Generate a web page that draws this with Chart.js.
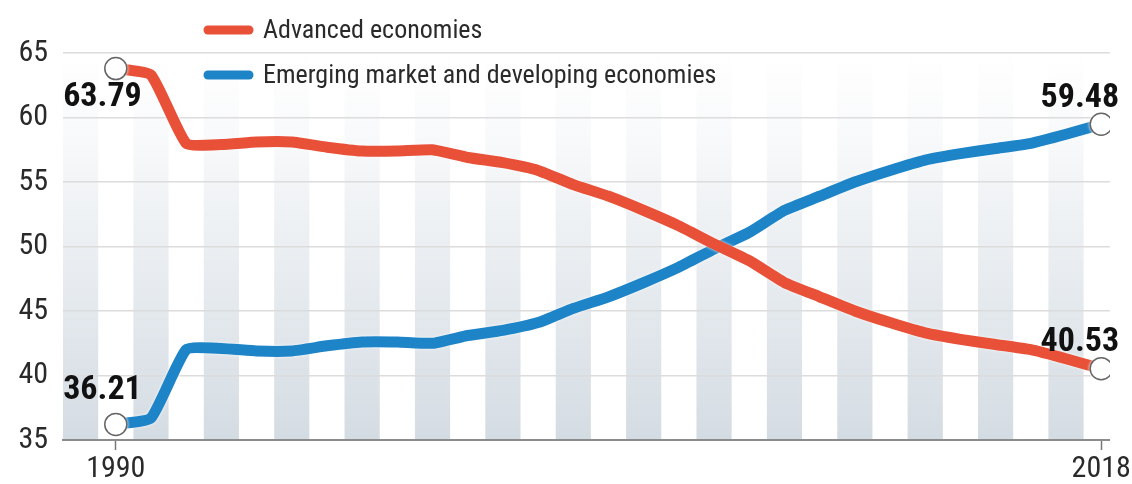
<!DOCTYPE html>
<html>
<head>
<meta charset="utf-8">
<script src="https://cdn.jsdelivr.net/npm/chart.js@4.4.1/dist/chart.umd.min.js"></script>
<style>
  html, body { margin: 0; padding: 0; background: #fff; }
  #wrap { width: 1132px; height: 484px; position: relative; }
</style>
</head>
<body>
<div id="wrap"><canvas id="chart"></canvas></div>
<script>
// data (% share)
var years = [1990, 1991, 1992, 1993, 1994, 1995, 1996, 1997, 1998, 1999,
             2000, 2001, 2002, 2003, 2004, 2005, 2006, 2007, 2008, 2009,
             2010, 2011, 2012, 2013, 2014, 2015, 2016, 2017, 2018];
var advanced = [63.79, 63.3, 58.0, 57.9, 58.1, 58.1, 57.7, 57.4, 57.4, 57.5,
                56.9, 56.5, 55.9, 54.8, 53.9, 52.8, 51.6, 50.2, 48.9, 47.2,
                46.1, 45.0, 44.1, 43.3, 42.8, 42.4, 42.0, 41.3, 40.53];
var emerging = [36.21, 36.7, 42.0, 42.1, 41.9, 41.9, 42.3, 42.6, 42.6, 42.5,
                43.1, 43.5, 44.1, 45.2, 46.1, 47.2, 48.4, 49.8, 51.1, 52.8,
                53.9, 55.0, 55.9, 56.7, 57.2, 57.6, 58.0, 58.7, 59.48];
var seriesNames = ['Advanced economies', 'Emerging market and developing economies'];
var yTicks = [35, 40, 45, 50, 55, 60, 65];
var xTickLabels = ['1990', '2018'];

var FONT = "'Liberation Sans Narrow', 'Roboto Condensed', 'DejaVu Sans Condensed', sans-serif";
var RED = 'rgb(232, 80, 56)';
var BLUE = 'rgb(30, 132, 200)';

function toPoints(vals) {
  return vals.map(function(v, i) { return {x: years[i], y: v}; });
}

// grey vertical bands on odd years, fading out towards the top
var bandsPlugin = {
  id: 'bands',
  beforeDraw: function(chart) {
    var ctx = chart.ctx, area = chart.chartArea, xs = chart.scales.x;
    var grad = ctx.createLinearGradient(0, area.top, 0, area.bottom);
    grad.addColorStop(0, 'rgba(212, 220, 227, 0)');
    grad.addColorStop(0.2, 'rgba(212, 220, 227, 0.15)');
    grad.addColorStop(1, 'rgba(212, 220, 227, 1)');
    ctx.save();
    ctx.fillStyle = grad;
    for (var y = years[0] - 1; y <= years[years.length - 1]; y += 2) {
      var x0 = Math.max(xs.getPixelForValue(y - 0.5), area.left);
      var x1 = Math.min(xs.getPixelForValue(y + 0.5), area.right);
      ctx.fillRect(x0, area.top, x1 - x0, area.bottom - area.top);
    }
    ctx.restore();
  }
};

// thin white halo round each line
var haloPlugin = {
  id: 'halo',
  beforeDatasetDraw: function(chart) {
    chart.ctx.shadowColor = 'rgba(255,255,255,0.9)';
    chart.ctx.shadowBlur = 3;
  },
  afterDatasetDraw: function(chart) {
    chart.ctx.shadowColor = 'rgba(0,0,0,0)';
    chart.ctx.shadowBlur = 0;
  }
};

// legend inside the plot and the end value labels
var labelsPlugin = {
  id: 'labels',
  afterDatasetsDraw: function(chart) {
    var ctx = chart.ctx;
    ctx.save();
    chart.data.datasets.forEach(function(ds, i) {
      var ly = 30 + i * 45;
      ctx.strokeStyle = ds.borderColor;
      ctx.lineWidth = 9;
      ctx.lineCap = 'round';
      ctx.beginPath();
      ctx.moveTo(208, ly);
      ctx.lineTo(249, ly);
      ctx.stroke();
      ctx.fillStyle = '#2a2a2a';
      ctx.font = '26px ' + FONT;
      ctx.textAlign = 'left';
      ctx.textBaseline = 'middle';
      ctx.fillText(ds.label, 263, ly + 1);

      var meta = chart.getDatasetMeta(i);
      var first = meta.data[0], last = meta.data[meta.data.length - 1];
      var vals = ds.data;
      ctx.fillStyle = '#111';
      ctx.font = 'bold 34px ' + FONT;
      ctx.textAlign = 'right';
      ctx.textBaseline = 'middle';
      var fy = i === 0 ? first.y + 29 : first.y - 34;
      ctx.fillText(vals[0].y.toFixed(2), first.x + 26, fy);
      ctx.fillText(vals[vals.length - 1].y.toFixed(2), last.x + 18, last.y - 26);
    });
    ctx.restore();
  }
};

function endRadius(c) {
  return (c.dataIndex === 0 || c.dataIndex === years.length - 1) ? 11 : 0;
}

new Chart(document.getElementById('chart').getContext('2d'), {
  type: 'line',
  data: {
    datasets: [{
      label: seriesNames[0],
      data: toPoints(advanced),
      borderColor: RED,
      borderWidth: 11,
      borderJoinStyle: 'round',
      borderCapStyle: 'round',
      tension: 0.15,
      pointRadius: endRadius,
      pointBackgroundColor: '#fff',
      pointBorderColor: '#666',
      pointBorderWidth: 1.5
    }, {
      label: seriesNames[1],
      data: toPoints(emerging),
      borderColor: BLUE,
      borderWidth: 11,
      borderJoinStyle: 'round',
      borderCapStyle: 'round',
      tension: 0.15,
      pointRadius: endRadius,
      pointBackgroundColor: '#fff',
      pointBorderColor: '#666',
      pointBorderWidth: 1.5
    }]
  },
  options: {
    responsive: true,
    maintainAspectRatio: false,
    animation: false,
    events: [],
    layout: {padding: {top: 53, right: 22, bottom: 0, left: 0}},
    plugins: {legend: {display: false}, tooltip: {enabled: false}},
    scales: {
      x: {
        type: 'linear',
        min: 1988.5,
        max: 2018.25,
        afterBuildTicks: function(scale) {
          scale.ticks = xTickLabels.map(function(t) { return {value: Number(t)}; });
        },
        afterFit: function(scale) { scale.height = 44; },
        ticks: {
          autoSkip: false,
          maxRotation: 0,
          padding: 1,
          color: '#2a2a2a',
          font: {family: FONT, size: 30},
          callback: function(v) { return String(v); }
        },
        grid: {drawOnChartArea: false, drawTicks: true, tickLength: 10, tickColor: '#777', tickWidth: 1.5},
        border: {color: '#8c8c8c', width: 2}
      },
      y: {
        min: yTicks[0],
        max: yTicks[yTicks.length - 1],
        afterBuildTicks: function(scale) {
          scale.ticks = yTicks.map(function(v) { return {value: v}; });
        },
        afterFit: function(scale) { scale.width = 63; },
        ticks: {
          padding: 15,
          color: '#2a2a2a',
          font: {family: FONT, size: 30}
        },
        grid: {color: '#dcdcdc', lineWidth: 1.5, drawTicks: false},
        border: {display: false}
      }
    }
  },
  plugins: [bandsPlugin, haloPlugin, labelsPlugin]
});
</script>
</body>
</html>
